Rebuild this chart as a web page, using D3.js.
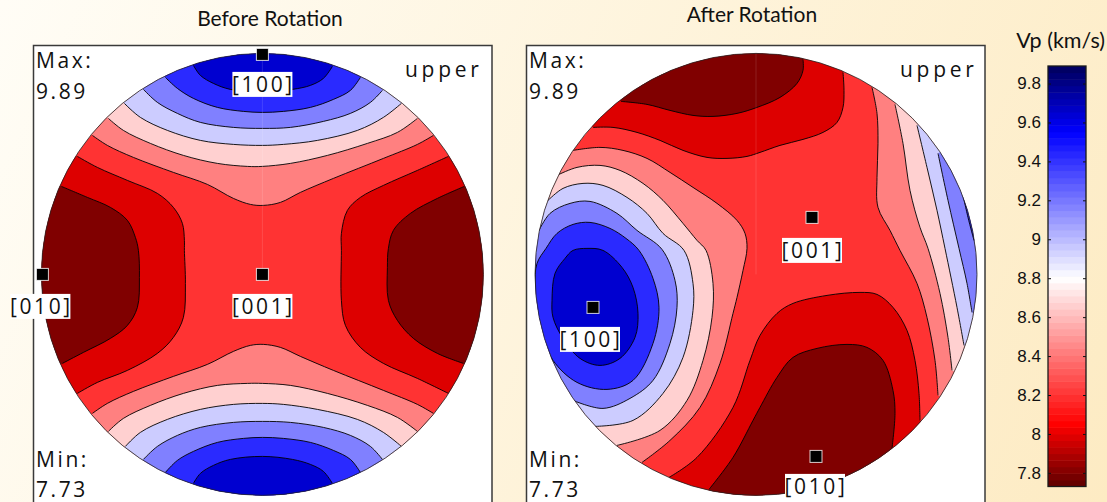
<!DOCTYPE html>
<html><head><meta charset="utf-8">
<script src="https://d3js.org/d3.v7.min.js"></script>
<style>html,body{margin:0;padding:0;overflow:hidden;background:#fef3dc}svg{display:block}</style>
</head><body><div id="chart"></div>
<script>
// ---- Data: P-wave velocity pole figure ----
const titleBefore = "Before Rotation";
const titleAfter = "After Rotation";
const unitLabel = "Vp (km/s)";
const maxValue = "9.89";
const minValue = "7.73";
const hemisphere = "upper";
const domainExtent = [7.73, 9.89];
const colorTicks = [9.8, 9.6, 9.4, 9.2, 9, 8.8, 8.6, 8.4, 8.2, 8, 7.8];
const rampValues = [7.73, 8.05, 8.8, 9.55, 9.89];
const rampColors = ["#5c0000", "#ff0000", "#ffffff", "#0000ff", "#00005c"];
const bandColors = ["#800000", "#dd0000", "#ff3333", "#ff8080", "#ffd0d0", "#ccccff", "#8080ff", "#2a2aff", "#0000d0"];
const basinBand = 2;

// Isolines, projected coordinates (u right, v up) on a net of radius 221
const bTop1 = [[-69,209],[-62,199],[-49,191],[-32,185],[0,182],[30,185],[48,189],[61,196],[70,208]];
const bTop2 = [[-97,197],[-85,186],[-69,176],[-45,167],[-19,163],[0,162],[21,163],[48,167],[71,175],[88,184],[98,197]];
const bTop3 = [[-119,185],[-105,172],[-85,161],[-62,152],[-29,147],[0,146],[28,147],[61,153],[88,161],[108,172],[120,184]];
const bTop4 = [[-138,171],[-122,157],[-95,144],[-62,134],[-29,130],[0,129],[21,130],[55,134],[95,144],[121,157],[139,171]];
const bTop5 = [[-154,156],[-139,144],[-112,131],[-79,119],[-45,111],[-15,108],[0,108],[28,111],[65,119],[105,131],[135,142],[155,156]];
const bTop6 = [[-170,139],[-155,129],[-129,117],[-89,102],[-55,90],[-29,76],[-12,70],[1,69],[18,72],[38,82],[71,96],[121,116],[155,130],[171,139]];
const bBot6 = [[-170,-139],[-155,-129],[-129,-117],[-89,-102],[-55,-90],[-29,-77],[-12,-71],[1,-70],[18,-73],[38,-82],[71,-96],[121,-116],[155,-130],[171,-139]];
const bBot5 = [[-154,-157],[-139,-144],[-112,-131],[-79,-119],[-45,-111],[-15,-109],[0,-109],[28,-111],[65,-119],[105,-131],[135,-143],[155,-157]];
const bBot4 = [[-137,-172],[-122,-158],[-95,-145],[-62,-135],[-29,-130],[0,-129],[21,-130],[55,-135],[95,-145],[121,-158],[139,-172]];
const bBot3 = [[-119,-185],[-105,-172],[-85,-161],[-62,-153],[-29,-148],[0,-147],[28,-148],[61,-153],[88,-161],[108,-172],[120,-185]];
const bBot2 = [[-97,-198],[-85,-186],[-69,-177],[-45,-168],[-19,-164],[0,-163],[21,-164],[48,-168],[71,-176],[88,-185],[98,-198]];
const bBot1 = [[-69,-209],[-62,-199],[-49,-191],[-32,-185],[0,-182],[30,-185],[48,-190],[61,-197],[70,-209]];
const bLeft7 = [[-185,118],[-165,107],[-135,94],[-105,81],[-89,67],[-80,51],[-78,34],[-78,24],[-77,-9],[-79,-43],[-89,-63],[-105,-79],[-135,-96],[-165,-108],[-185,-119]];
const bLeft8 = [[-201,88],[-175,77],[-152,67],[-135,54],[-127,37],[-124,24],[-123,-3],[-125,-33],[-135,-51],[-152,-64],[-179,-78],[-200,-89]];
const bRight7 = [[186,118],[155,104],[121,89],[98,77],[85,64],[79,41],[79,24],[79,-26],[83,-51],[98,-73],[121,-89],[155,-104],[186,-119]];
const bRight8 = [[202,88],[175,76],[148,61],[131,44],[126,26],[125,7],[126,-26],[135,-46],[151,-64],[175,-79],[201,-89]];

const aTop8 = [[-135,173],[-109,170],[-86,164],[-63,159],[-43,158],[-19,161],[1,167],[24,177],[41,191],[47,204],[47,215]];
const aTop7 = [[-163,147],[-143,147],[-119,142],[-96,134],[-73,124],[-49,117],[-29,116],[-9,118],[4,122],[24,129],[47,135],[67,142],[81,152],[87,167],[88,184],[87,202]];
const aLeft6 = [[-183,124],[-156,127],[-133,124],[-109,116],[-86,102],[-63,87],[-39,71],[-19,54],[-11,41],[-9,26],[-13,4],[-19,-23],[-23,-39],[-36,-89],[-56,-133],[-86,-166],[-114,-188]];
const aLeft5 = [[-197,100],[-179,107],[-156,109],[-136,104],[-113,91],[-93,74],[-73,51],[-59,34],[-50,24],[-43,-9],[-44,-43],[-53,-86],[-69,-126],[-96,-156],[-139,-171]];
const aLeft4 = [[-208,74],[-193,86],[-173,91],[-153,89],[-129,77],[-109,61],[-93,41],[-72,24],[-63,-9],[-63,-36],[-73,-83],[-93,-119],[-123,-146],[-161,-152]];
const aLeft3 = [[-218,42],[-206,61],[-186,71],[-166,73],[-139,61],[-119,44],[-94,25],[-81,-6],[-79,-33],[-86,-69],[-103,-106],[-126,-124],[-153,-134],[-183,-126]];
const aLoop2 = [[-210,26],[-199,41],[-183,50],[-166,52],[-146,46],[-130,36],[-117,24],[-103,-4],[-97,-33],[-103,-69],[-123,-106],[-149,-115],[-179,-108],[-203,-86],[-216,-56],[-221,-13],[-219,11]];
const aLoop1 = [[-183,24],[-169,26],[-153,24],[-134,7],[-123,-13],[-118,-39],[-121,-63],[-136,-84],[-156,-91],[-176,-84],[-193,-64],[-203,-43],[-204,-26],[-201,1],[-191,16]];
const aRight6 = [[116,187],[121,161],[122,131],[121,97],[122,67],[134,44],[144,24],[161,-9],[171,-43],[179,-86],[182,-121]];
const aRight5 = [[139,170],[147,131],[154,84],[164,47],[172,26],[184,-19],[192,-63],[196,-96]];
const aRight4 = [[161,149],[171,107],[181,64],[189,26],[201,-33],[208,-71]];
const aRight3 = [[182,121],[192,74],[203,26],[211,-9],[216,-38]];
const aRight2 = [[206,84],[212,57],[218,34]];
const aBot7 = [[-87,-203],[-59,-183],[-23,-133],[-6,-86],[4,-61],[21,-39],[37,-29],[71,-21],[104,-18],[121,-20],[137,-33],[151,-56],[159,-86],[163,-119],[164,-146]];
const aBot8 = [[-47,-215],[-23,-183],[-3,-146],[4,-133],[21,-103],[37,-83],[61,-74],[91,-70],[111,-73],[127,-86],[137,-116],[139,-139],[136,-174]];

// [isoline, band filled beyond it, way round the rim: +1 ccw, -1 cw, 0 closed loop]
const beforeContours = [
  [bTop6,3,1],[bTop5,4,1],[bTop4,5,1],[bTop3,6,1],[bTop2,7,1],[bTop1,8,1],
  [bBot6,3,-1],[bBot5,4,-1],[bBot4,5,-1],[bBot3,6,-1],[bBot2,7,-1],[bBot1,8,-1],
  [bLeft7,1,-1],[bLeft8,0,-1],[bRight7,1,1],[bRight8,0,1]
];
const afterContours = [
  [aTop7,1,1],[aTop8,0,1],
  [aLeft6,3,-1],[aLeft5,4,-1],[aLeft4,5,-1],[aLeft3,6,-1],[aLoop2,7,0],[aLoop1,8,0],
  [aRight6,3,1],[aRight5,4,1],[aRight4,5,1],[aRight3,6,1],[aRight2,7,1],
  [aBot7,1,-1],[aBot8,0,-1]
];
// crystal axes: [label, u, v, label box centre u, label box centre v]
const beforeAxes = [["[100]",0,220,0,190],["[001]",0,0,0,-32],["[010]",-220,0,-222,-32]];
const afterAxes = [["[001]",56,57,56,24],["[100]",-163,-33,-166,-65],["[010]",60,-182,59,-212]];

// ---- Layout ----
const W = 1107, H = 502, R = 221;
const svg = d3.select("#chart").append("svg").attr("width", W).attr("height", H);
const defs = svg.append("defs");
const bg = defs.append("linearGradient").attr("id","bg").attr("gradientUnits","userSpaceOnUse")
  .attr("x1",0).attr("y1",0).attr("x2",W).attr("y2",H);
bg.append("stop").attr("offset",0).attr("stop-color","#fffdf6");
bg.append("stop").attr("offset",1).attr("stop-color","#fdebc3");
svg.append("rect").attr("width",W).attr("height",H).attr("fill","url(#bg)");

const bandScale = d3.scaleOrdinal().domain(d3.range(bandColors.length)).range(bandColors);
const labelFont = "'Open Sans', sans-serif";
const titleFont = "Lato, 'Open Sans', sans-serif";

function drawNet(id, cx, cy, frame, contours, axes, title, titleX, titleY, upperX) {
  const x = d3.scaleLinear().domain([-R,R]).range([cx-R,cx+R]);
  const y = d3.scaleLinear().domain([-R,R]).range([cy+R,cy-R]);
  const open = d3.line().x(d=>x(d[0])).y(d=>y(d[1])).curve(d3.curveCatmullRom.alpha(0.5));
  const loop = d3.line().x(d=>x(d[0])).y(d=>y(d[1])).curve(d3.curveCatmullRomClosed.alpha(0.5));

  svg.append("text").attr("x",titleX).attr("y",titleY).attr("text-anchor","middle")
    .attr("font-family",titleFont).attr("font-size",21).attr("fill","#111").text(title);

  svg.append("rect").attr("x",frame[0]).attr("y",frame[1]).attr("width",frame[2]-frame[0]).attr("height",H+10-frame[1])
    .attr("fill","#fff").attr("stroke","#3a3a3a").attr("stroke-width",1.5);

  defs.append("clipPath").attr("id",id).append("circle").attr("cx",cx).attr("cy",cy).attr("r",R);
  const g = svg.append("g").attr("clip-path",`url(#${id})`);
  g.append("circle").attr("cx",cx).attr("cy",cy).attr("r",R).attr("fill",bandScale(basinBand));

  contours.forEach(([pts,band,dir]) => {
    let fillPath, linePath;
    if (dir === 0) {
      fillPath = linePath = loop(pts);
    } else {
      linePath = open(pts);
      const a0 = Math.atan2(pts[pts.length-1][1],pts[pts.length-1][0]);
      let a1 = Math.atan2(pts[0][1],pts[0][0]);
      if (dir>0 && a1<a0) a1 += 2*Math.PI;
      if (dir<0 && a1>a0) a1 -= 2*Math.PI;
      const rim = d3.range(0,1.001,0.04).map(t=>{
        const a = a0+(a1-a0)*t;
        return "L"+x(1.15*R*Math.cos(a))+","+y(1.15*R*Math.sin(a));
      }).join("");
      fillPath = linePath+rim+"Z";
    }
    g.append("path").attr("d",fillPath).attr("fill",bandScale(band));
    g.append("path").attr("class","iso").attr("d",linePath).attr("fill","none");
  });
  g.selectAll("path.iso").raise().attr("stroke","#000").attr("stroke-width",0.9);

  // faint seam of the projection
  g.append("line").attr("x1",x(0)).attr("x2",x(0)).attr("y1",y(R)).attr("y2",y(0))
    .attr("stroke","#fff").attr("stroke-opacity",0.12);
  svg.append("circle").attr("cx",cx).attr("cy",cy).attr("r",R).attr("fill","none").attr("stroke","#222").attr("stroke-width",0.8);

  const note = (tx,ty,s,ls) => svg.append("text").attr("x",tx).attr("y",ty)
    .attr("font-family",labelFont).attr("font-size",21).attr("letter-spacing",ls||2.6).attr("fill","#111").text(s);
  note(frame[0]+2.5,68,"Max:");
  note(frame[0]+2.5,99,maxValue);
  note(frame[0]+2.5,467,"Min:");
  note(frame[0]+2.5,497,minValue);
  note(upperX,77,hemisphere,3.7);

  axes.forEach(([name,u,v,lu,lv]) => {
    svg.append("rect").attr("x",x(u)-6).attr("y",y(v)-6).attr("width",12).attr("height",12)
      .attr("fill","#000").attr("stroke","#fff").attr("stroke-opacity",0.8).attr("stroke-width",1);
    svg.append("rect").attr("x",x(lu)-30).attr("y",y(lv)-12.5).attr("width",60).attr("height",25).attr("fill","#fff");
    svg.append("text").attr("x",x(lu)+1).attr("y",y(lv)+7.5).attr("text-anchor","middle")
      .attr("font-family",labelFont).attr("font-size",21).attr("letter-spacing",2.6).attr("fill","#111").text(name);
  });
}

drawNet("netA",262.4,274.4,[33.5,45.5,492],beforeContours,beforeAxes,titleBefore,270,26,405);
drawNet("netB",756,274.4,[526.5,45.5,985],afterContours,afterAxes,titleAfter,752,22,900);

// ---- Colour bar ----
const vScale = d3.scaleLinear().domain(domainExtent).range([486.5,66]);
const ramp = d3.scaleLinear().domain(rampValues).range(rampColors).interpolate(d3.interpolateRgb);
const barX0 = 1048, barX1 = 1086;
const steps = d3.range(64).map(i => domainExtent[0]+(domainExtent[1]-domainExtent[0])*i/64);
const stepH = (domainExtent[1]-domainExtent[0])/64;
svg.append("g").selectAll("rect").data(steps).join("rect")
  .attr("x",barX0).attr("width",barX1-barX0)
  .attr("y",d=>vScale(d+stepH)).attr("height",d=>vScale(d)-vScale(d+stepH)+0.5)
  .attr("fill",d=>ramp(d+stepH/2));
const axisL = d3.axisLeft(vScale).tickValues(colorTicks).tickFormat(d3.format("~g")).tickSize(-3).tickPadding(7);
const axisR = d3.axisRight(vScale).tickValues(colorTicks).tickFormat("").tickSize(-3);
const gL = svg.append("g").attr("transform",`translate(${barX0},0)`).call(axisL);
const gR = svg.append("g").attr("transform",`translate(${barX1},0)`).call(axisR);
[gL,gR].forEach(a=>{a.select(".domain").remove();a.selectAll("line").attr("stroke","#111").attr("stroke-width",1);});
gL.selectAll("text").attr("font-family","'Liberation Sans', Arial, sans-serif").attr("font-size",17).attr("fill","#111");
svg.append("rect").attr("x",barX0).attr("y",66).attr("width",barX1-barX0).attr("height",420.5)
  .attr("fill","none").attr("stroke","#1a1a1a").attr("stroke-width",1.3);
svg.append("text").attr("x",1105).attr("y",48).attr("text-anchor","end")
  .attr("font-family",titleFont).attr("font-size",21.5).attr("fill","#111").text(unitLabel);
</script></body></html>
